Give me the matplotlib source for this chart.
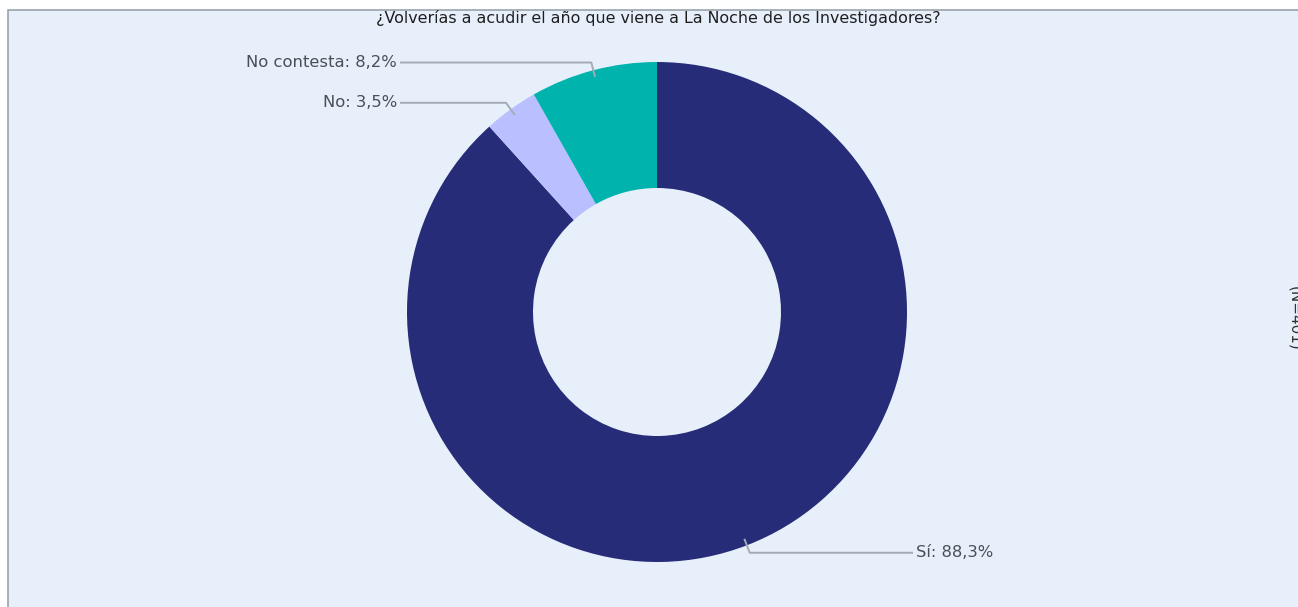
import numpy as np
import matplotlib
matplotlib.use("Agg")
import matplotlib.pyplot as plt
from matplotlib.patches import Rectangle

# ---- data ----
title = "¿Volverías a acudir el año que viene a La Noche de los Investigadores?"
categories = ["Sí", "No", "No contesta"]
values = [88.3, 3.5, 8.2]
colors = ["#272C79", "#B9BFFF", "#00B3AD"]
side_note = "(N=401)"

W, H = 1298, 607
fig = plt.figure(figsize=(W / 100, H / 100), dpi=100)
ax = fig.add_axes([0, 0, 1, 1])

# background panel
ax.add_patch(Rectangle((8, -5), W, H - 10 + 5, facecolor="#E6EFFA",
                       edgecolor="#9AA3AD", linewidth=1.2, zorder=0))

cx, cy = 657, H - 312
R = 250
ax.pie(values, colors=colors, startangle=90, counterclock=False,
       center=(cx, cy), radius=R,
       wedgeprops=dict(width=126, linewidth=0), frame=True)
ax.set_xlim(0, W)
ax.set_ylim(0, H)
ax.set_aspect("auto")
ax.axis("off")

# labels with leader lines
total = sum(values)
cum = 0
label_x = {"left": 397, "right": 916}
for cat, v in zip(categories, values):
    mid = (cum + v / 2) / total * 2 * np.pi  # clockwise from top
    cum += v
    s, c = np.sin(mid), np.cos(mid)
    x0, y0 = cx + 0.972 * R * s, cy + 0.972 * R * c
    x1, y1 = cx + 1.032 * R * s, cy + 1.032 * R * c
    txt = f"{cat}: {v:.1f}%".replace(".", ",")
    if s < 0:
        xe = label_x["left"] + 3
        ha = "right"
        xt = label_x["left"]
    else:
        xe = label_x["right"] - 3
        ha = "left"
        xt = label_x["right"]
    ax.plot([x0, x1, xe], [y0, y1, y1], color="#A3ABB4", lw=1.4,
            solid_capstyle="butt", zorder=3)
    ax.text(xt, y1, txt, ha=ha, va="center", fontsize=11.8,
            color="#4A4F55", family="DejaVu Sans", zorder=4)

ax.text(658, H - 18, title, ha="center", va="center", fontsize=11.4,
        color="#1E1E1E", family="DejaVu Sans")
ax.text(1295, H - 318, side_note, ha="center", va="center", rotation=-90,
        fontsize=11, color="#333333", family="DejaVu Sans", clip_on=False)

fig.savefig("out.png", dpi=100)
